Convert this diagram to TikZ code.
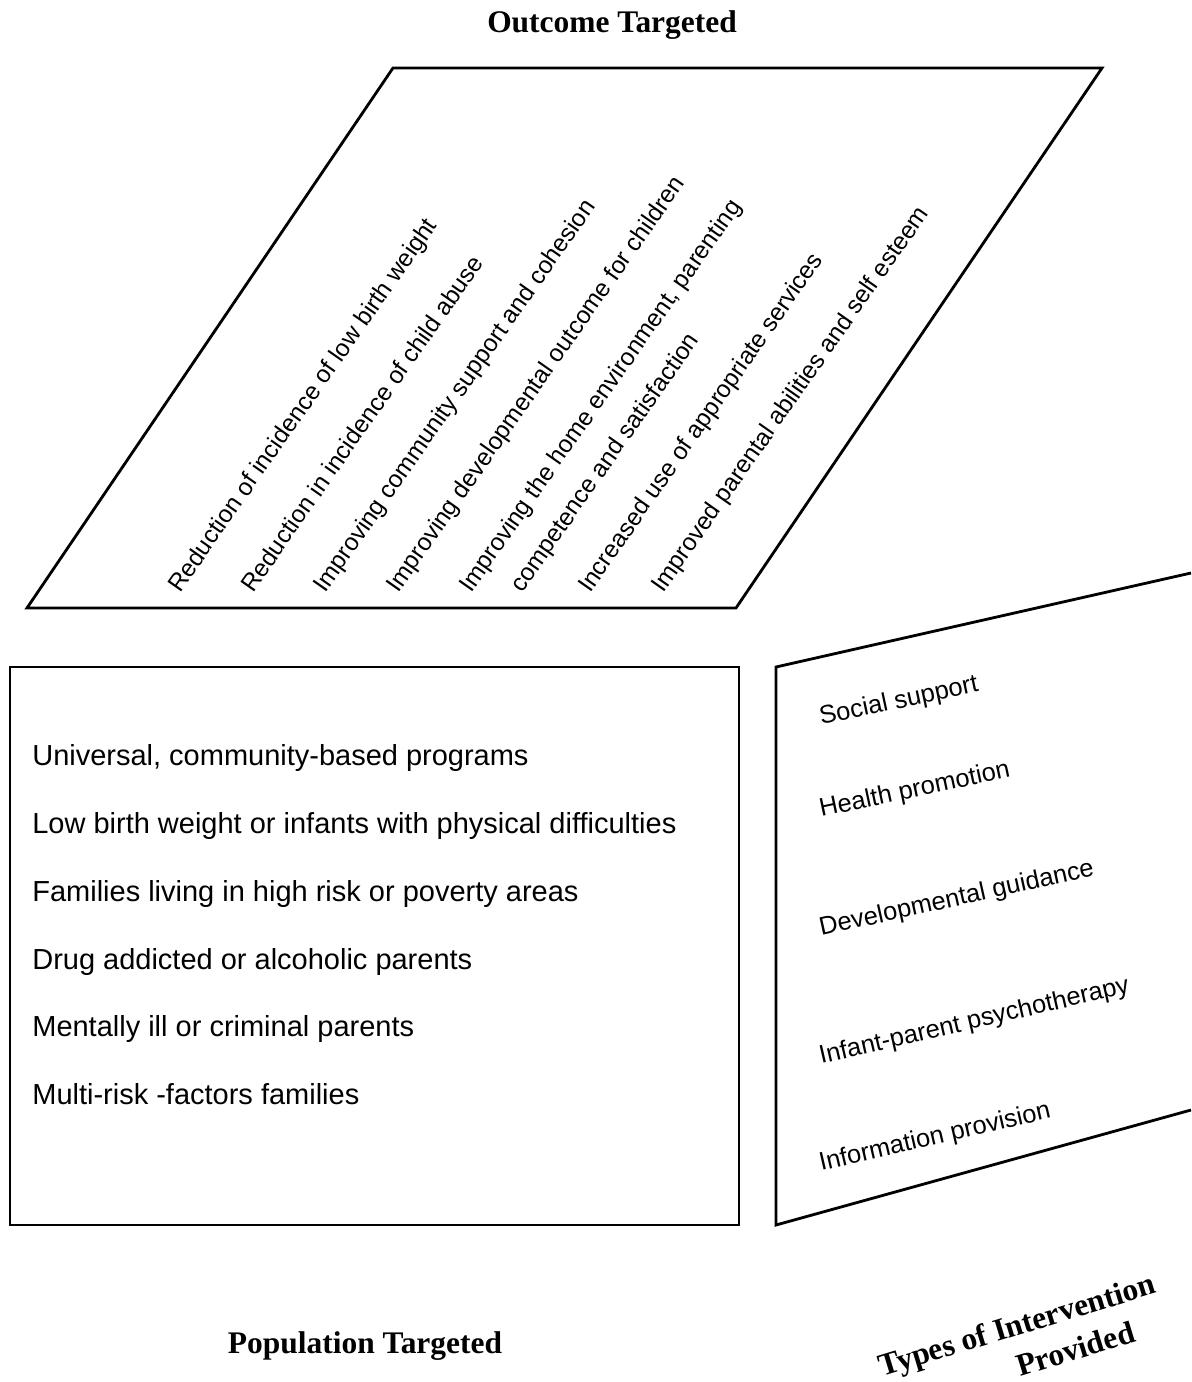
\documentclass[tikz,border=0pt]{standalone}
\usepackage{fontspec}
\setmainfont{Liberation Sans}
\newfontfamily\headfont{Liberation Serif}
\usetikzlibrary{positioning}

\begin{document}
\begin{tikzpicture}[
  x=0.02cm, y=-0.02cm,
  frame/.style={line width=1.6pt, line join=miter},
  head/.style={font=\headfont\bfseries\fontsize{17.9}{21}\selectfont,
               anchor=base, inner sep=0pt},
  outc/.style={font=\fontsize{13.9}{17}\selectfont, rotate=55,
               anchor=base west, inner sep=0pt},
  popl/.style={font=\fontsize{16.5}{20}\selectfont, anchor=base west,
               inner sep=0pt},
  intv/.style={font=\fontsize{14.5}{17}\selectfont, anchor=base west,
               inner sep=0pt},
]
\useasboundingbox (0,0) rectangle (1191,1382);

%% ---- Row of outcome lines (start x along the bottom)
\def\rO{594}

%% ======== OUTCOME TARGETED ========
\node[head] (outT) at (612,33) {Outcome Targeted};
\draw[frame] (27,608) -- (736,608) -- (1102,68) -- (393,68) -- cycle;

\node[outc] (o1)  at (180,\rO) {Reduction of incidence of low birth weight};
\node[outc] (o2)  at (253,\rO) {Reduction in incidence of child abuse};
\node[outc] (o3)  at (325,\rO) {Improving community support and cohesion};
\node[outc] (o4)  at (398,\rO) {Improving developmental outcome for children};
\node[outc] (o5)  at (471,\rO) {Improving the home environment, parenting};
\node[outc] (o5b) at (522,\rO) {competence and satisfaction};
\node[outc] (o6)  at (590,\rO) {Increased use of appropriate services};
\node[outc] (o7)  at (663,\rO) {Improved parental abilities and self esteem};

%% ======== POPULATION TARGETED ========
\draw[frame] (10,667) rectangle (739,1225);

\node[popl] (p1) at (32,765)  {Universal, community-based programs};
\node[popl] (p2) at (32,833)  {Low birth weight or infants with physical difficulties};
\node[popl] (p3) at (32,901)  {Families living in high risk or poverty areas};
\node[popl] (p4) at (32,969)  {Drug addicted or alcoholic parents};
\node[popl] (p5) at (32,1036) {Mentally ill or criminal parents};
\node[popl] (p6) at (32,1104) {Multi-risk -factors families};

\node[head] (popT) at (365,1353) {Population Targeted};

%% ======== TYPES OF INTERVENTION ========
% panel runs off the right edge
\draw[frame] (1191,573) -- (776,667) -- (776,1225) -- (1191,1110);

\node[intv, rotate=12]   (i1) at (821,725)  {Social support};
\node[intv, rotate=12]   (i2) at (821,817)  {Health promotion};
\node[intv, rotate=12.5] (i3) at (821,936)  {Developmental guidance};
\node[intv, rotate=13]   (i4) at (821,1064) {Infant-parent psychotherapy};
\node[intv, rotate=13]   (i5) at (821,1171) {Information provision};

\node[head, anchor=base west, rotate=17] (typA) at (882,1377) {Types of Intervention};
\node[head, anchor=base west, rotate=17] (typB) at (1020,1377) {Provided};

\end{tikzpicture}
\end{document}
